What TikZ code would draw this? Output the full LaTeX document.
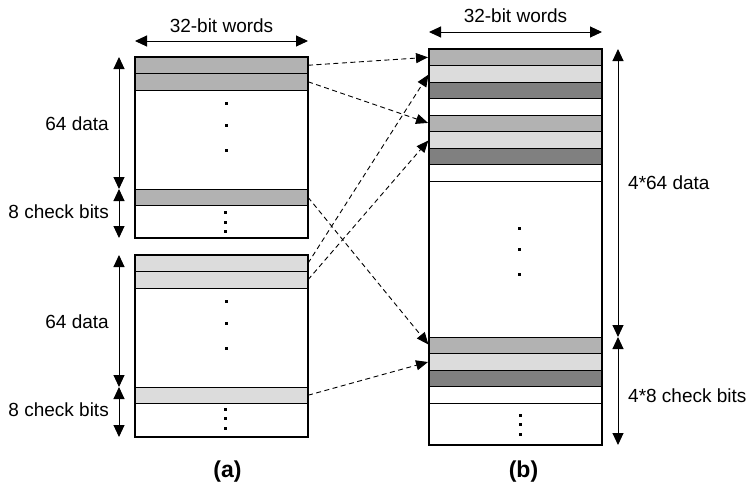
\documentclass[tikz,border=0pt]{standalone}
\usepackage{fontspec}
\setmainfont{Liberation Sans}
\usetikzlibrary{arrows.meta}
\definecolor{midgray}{RGB}{178,178,178}
\definecolor{litegray}{RGB}{220,220,220}
\definecolor{deepgray}{RGB}{128,128,128}
\begin{document}
\begin{tikzpicture}[x=1pt,y=-1pt,
  rowbox/.style={draw, line width=0.9pt, minimum width=173pt, minimum height=16.5pt, inner sep=0pt, outer sep=0pt},
  framebox/.style={draw, line width=1.3pt, minimum width=173pt, inner sep=0pt, outer sep=0pt},
  lbl/.style={font=\fontsize{19}{22}\selectfont, inner sep=0pt},
  captext/.style={font=\fontsize{23}{26}\selectfont\bfseries, inner sep=0pt},
  mytip/.tip={Triangle[length=12pt,width=11pt]},
  dimarrow/.style={line width=1pt, mytip-mytip},
  movearrow/.style={line width=0.9pt, dash pattern=on 5pt off 3.5pt, -{Triangle[length=12pt,width=10pt]}, shorten >=1pt},
  dotc/.style={fill=black}]
\useasboundingbox (0,0) rectangle (749,482);

% ---- left upper block (A)
\node[rowbox, fill=midgray] (a1) at (221.5,65.25) {};
\node[rowbox, fill=midgray] (a2) at (221.5,81.75) {};
\node[rowbox, fill=midgray] (ac) at (221.5,197.25) {};
\node[framebox, minimum height=181pt] (A) at (221.5,147.5) {};
\foreach \yy in {103,125,150} \fill[dotc] (224.5,\yy-1.5) rectangle ++(3,3);
\foreach \yy in {212,222,231} \fill[dotc] (223.5,\yy-1.5) rectangle ++(3,3);

% ---- left lower block (B)
\node[rowbox, fill=litegray] (b1) at (221.5,263.25) {};
\node[rowbox, fill=litegray] (b2) at (221.5,279.75) {};
\node[rowbox, fill=litegray] (bc) at (221.5,395.25) {};
\node[framebox, minimum height=182pt] (B) at (221.5,346) {};
\foreach \yy in {301,323,348} \fill[dotc] (224.5,\yy-1.5) rectangle ++(3,3);
\foreach \yy in {409,418,428} \fill[dotc] (223.5,\yy-1.5) rectangle ++(3,3);

% ---- right block (C)
\node[rowbox, fill=midgray]  (c1) at (515.5,57.25) {};
\node[rowbox, fill=litegray] (c2) at (515.5,73.75) {};
\node[rowbox, fill=deepgray] (c3) at (515.5,90.25) {};
\node[rowbox, fill=white]    (c4) at (515.5,106.75) {};
\node[rowbox, fill=midgray]  (c5) at (515.5,123.25) {};
\node[rowbox, fill=litegray] (c6) at (515.5,139.75) {};
\node[rowbox, fill=deepgray] (c7) at (515.5,156.25) {};
\node[rowbox, fill=white]    (c8) at (515.5,172.75) {};
\node[rowbox, fill=midgray]  (c9) at (515.5,345.25) {};
\node[rowbox, fill=litegray] (c10) at (515.5,361.75) {};
\node[rowbox, fill=deepgray] (c11) at (515.5,378.25) {};
\node[rowbox, fill=white]    (c12) at (515.5,394.75) {};
\node[framebox, minimum height=396pt] (C) at (515.5,247) {};
\foreach \yy in {228,249,274} \fill[dotc] (517.5,\yy-1.5) rectangle ++(3,3);
\foreach \yy in {415,424,434} \fill[dotc] (519,\yy-1.5) rectangle ++(3,3);

% ---- width arrows and labels
\coordinate (wl1) at (135,41); \coordinate (wl2) at (308,41);
\draw[dimarrow] (wl1) -- (wl2);
\node[lbl, anchor=base] (wlt) at (221.5,32) {32-bit words};
\coordinate (wr1) at (429,32); \coordinate (wr2) at (602,32);
\draw[dimarrow] (wr1) -- (wr2);
\node[lbl, anchor=base] (wrt) at (515.5,22) {32-bit words};

% ---- left dimension arrows
\coordinate (la1) at (119,57);  \coordinate (la2) at (119,189); \coordinate (la3) at (119,238);
\draw[dimarrow] (la1) -- (la2); \draw[dimarrow] (la2) -- (la3);
\coordinate (lb1) at (119,255); \coordinate (lb2) at (119,387); \coordinate (lb3) at (119,437);
\draw[dimarrow] (lb1) -- (lb2); \draw[dimarrow] (lb2) -- (lb3);
\node[lbl, anchor=base east] (ld1) at (109,130) {64 data};
\node[lbl, anchor=base east] (lc1) at (109,218) {8 check bits};
\node[lbl, anchor=base east] (ld2) at (109,328) {64 data};
\node[lbl, anchor=base east] (lc2) at (109,416) {8 check bits};

% ---- right dimension arrows
\coordinate (ra1) at (618,49); \coordinate (ra2) at (618,337); \coordinate (ra3) at (618,445);
\draw[dimarrow] (ra1) -- (ra2); \draw[dimarrow] (ra2) -- (ra3);
\node[lbl, anchor=base west] (rd) at (628,189) {4*64 data};
\node[lbl, anchor=base west] (rc) at (628,402) {4*8 check bits};

% ---- dashed mapping arrows
\draw[movearrow] (a1.east) -- (c1.west);
\draw[movearrow] (a2.east) -- (c5.west);
\draw[movearrow] (ac.east) -- (c9.west);
\draw[movearrow] (b1.east) -- (c2.west);
\draw[movearrow] (b2.east) -- (c6.west);
\draw[movearrow] (bc.east) -- (c10.west);

% ---- captions
\node[captext, anchor=base] (capa) at (227.5,477) {(a)};
\node[captext, anchor=base] (capb) at (523.5,477) {(b)};
\end{tikzpicture}
\end{document}
